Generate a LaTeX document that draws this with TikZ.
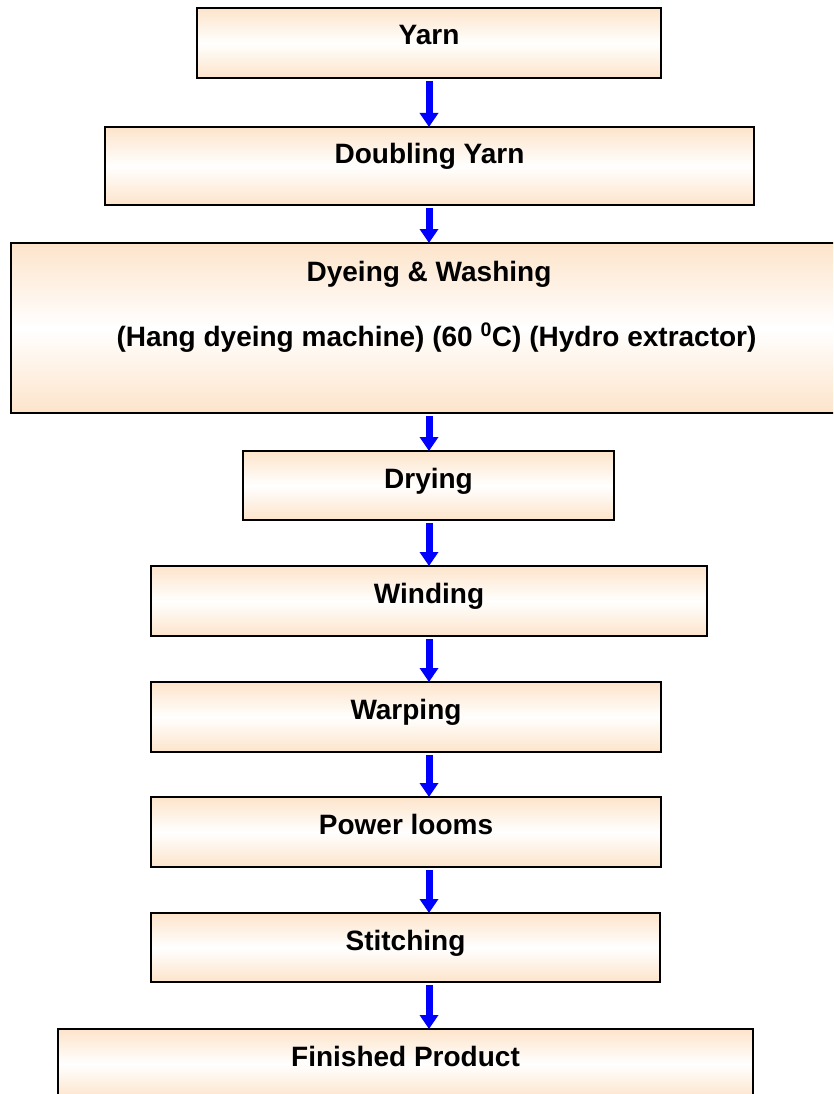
\documentclass[tikz,border=0pt]{standalone}
\usepackage{fontspec}
\setmainfont{Liberation Sans}
\usetikzlibrary{arrows.meta,calc}
\definecolor{peach}{RGB}{253,228,202}
\definecolor{flowblue}{RGB}{0,0,255}
\begin{document}
\begin{tikzpicture}[x=1pt,y=-1pt,
  box/.style={draw=black, line width=2pt, rectangle, inner sep=0pt, outer sep=0pt,
    top color=peach, bottom color=peach, middle color=white},
  lbl/.style={anchor=base, inner sep=0pt, font=\fontsize{28}{32}\selectfont\bfseries},
  flow/.style={draw=flowblue, line width=7pt, -{Triangle[width=18pt,length=14pt]}, shorten <=3pt}]
\useasboundingbox (0,0) rectangle (833,1094);
\clip (0,0) rectangle (833,1094);

% process boxes
\node[box, minimum width=464pt, minimum height=70pt] (yarn) at (429,43) {};
\node[box, minimum width=649pt, minimum height=78pt] (dbl) at (429.5,166) {};
\node[box, minimum width=850pt, minimum height=170pt] (dye) at (436,328) {};
\node[box, minimum width=371pt, minimum height=69pt] (dry) at (428.5,485.5) {};
\node[box, minimum width=556pt, minimum height=70pt] (wind) at (429,601) {};
\node[box, minimum width=510pt, minimum height=70pt] (warp) at (406,717) {};
\node[box, minimum width=510pt, minimum height=70pt] (loom) at (406,832) {};
\node[box, minimum width=509pt, minimum height=69pt] (stitch) at (405.5,947.5) {};
\node[box, minimum width=695pt, minimum height=70pt] (fin) at (405.5,1064) {};

% labels
\node[lbl] (yarn-t) at ($(yarn.north)+(0,37)$) {Yarn};
\node[lbl] (dbl-t) at ($(dbl.north)+(0,37)$) {Doubling Yarn};
\node[lbl] (dye-t1) at (429,281) {Dyeing \& Washing};
\node[lbl] (dye-t2) at (436.5,346) {(Hang dyeing machine) (60 \textsuperscript{0}C) (Hydro extractor)};
\node[lbl] (dry-t) at ($(dry.north)+(0,37)$) {Drying};
\node[lbl] (wind-t) at ($(wind.north)+(0,37)$) {Winding};
\node[lbl] (warp-t) at ($(warp.north)+(0,37)$) {Warping};
\node[lbl] (loom-t) at ($(loom.north)+(0,37)$) {Power looms};
\node[lbl] (stitch-t) at ($(stitch.north)+(0,37)$) {Stitching};
\node[lbl] (fin-t) at ($(fin.north)+(0,37)$) {Finished Product};

% flow arrows, all on the common axis of the top box
\coordinate (ax) at (yarn.center);
\draw[flow] (yarn.south -| ax) -- (dbl.north -| ax);
\draw[flow] (dbl.south -| ax) -- (dye.north -| ax);
\draw[flow] (dye.south -| ax) -- (dry.north -| ax);
\draw[flow] (dry.south -| ax) -- (wind.north -| ax);
\draw[flow] (wind.south -| ax) -- (warp.north -| ax);
\draw[flow] (warp.south -| ax) -- (loom.north -| ax);
\draw[flow] (loom.south -| ax) -- (stitch.north -| ax);
\draw[flow] (stitch.south -| ax) -- (fin.north -| ax);
\end{tikzpicture}
\end{document}
